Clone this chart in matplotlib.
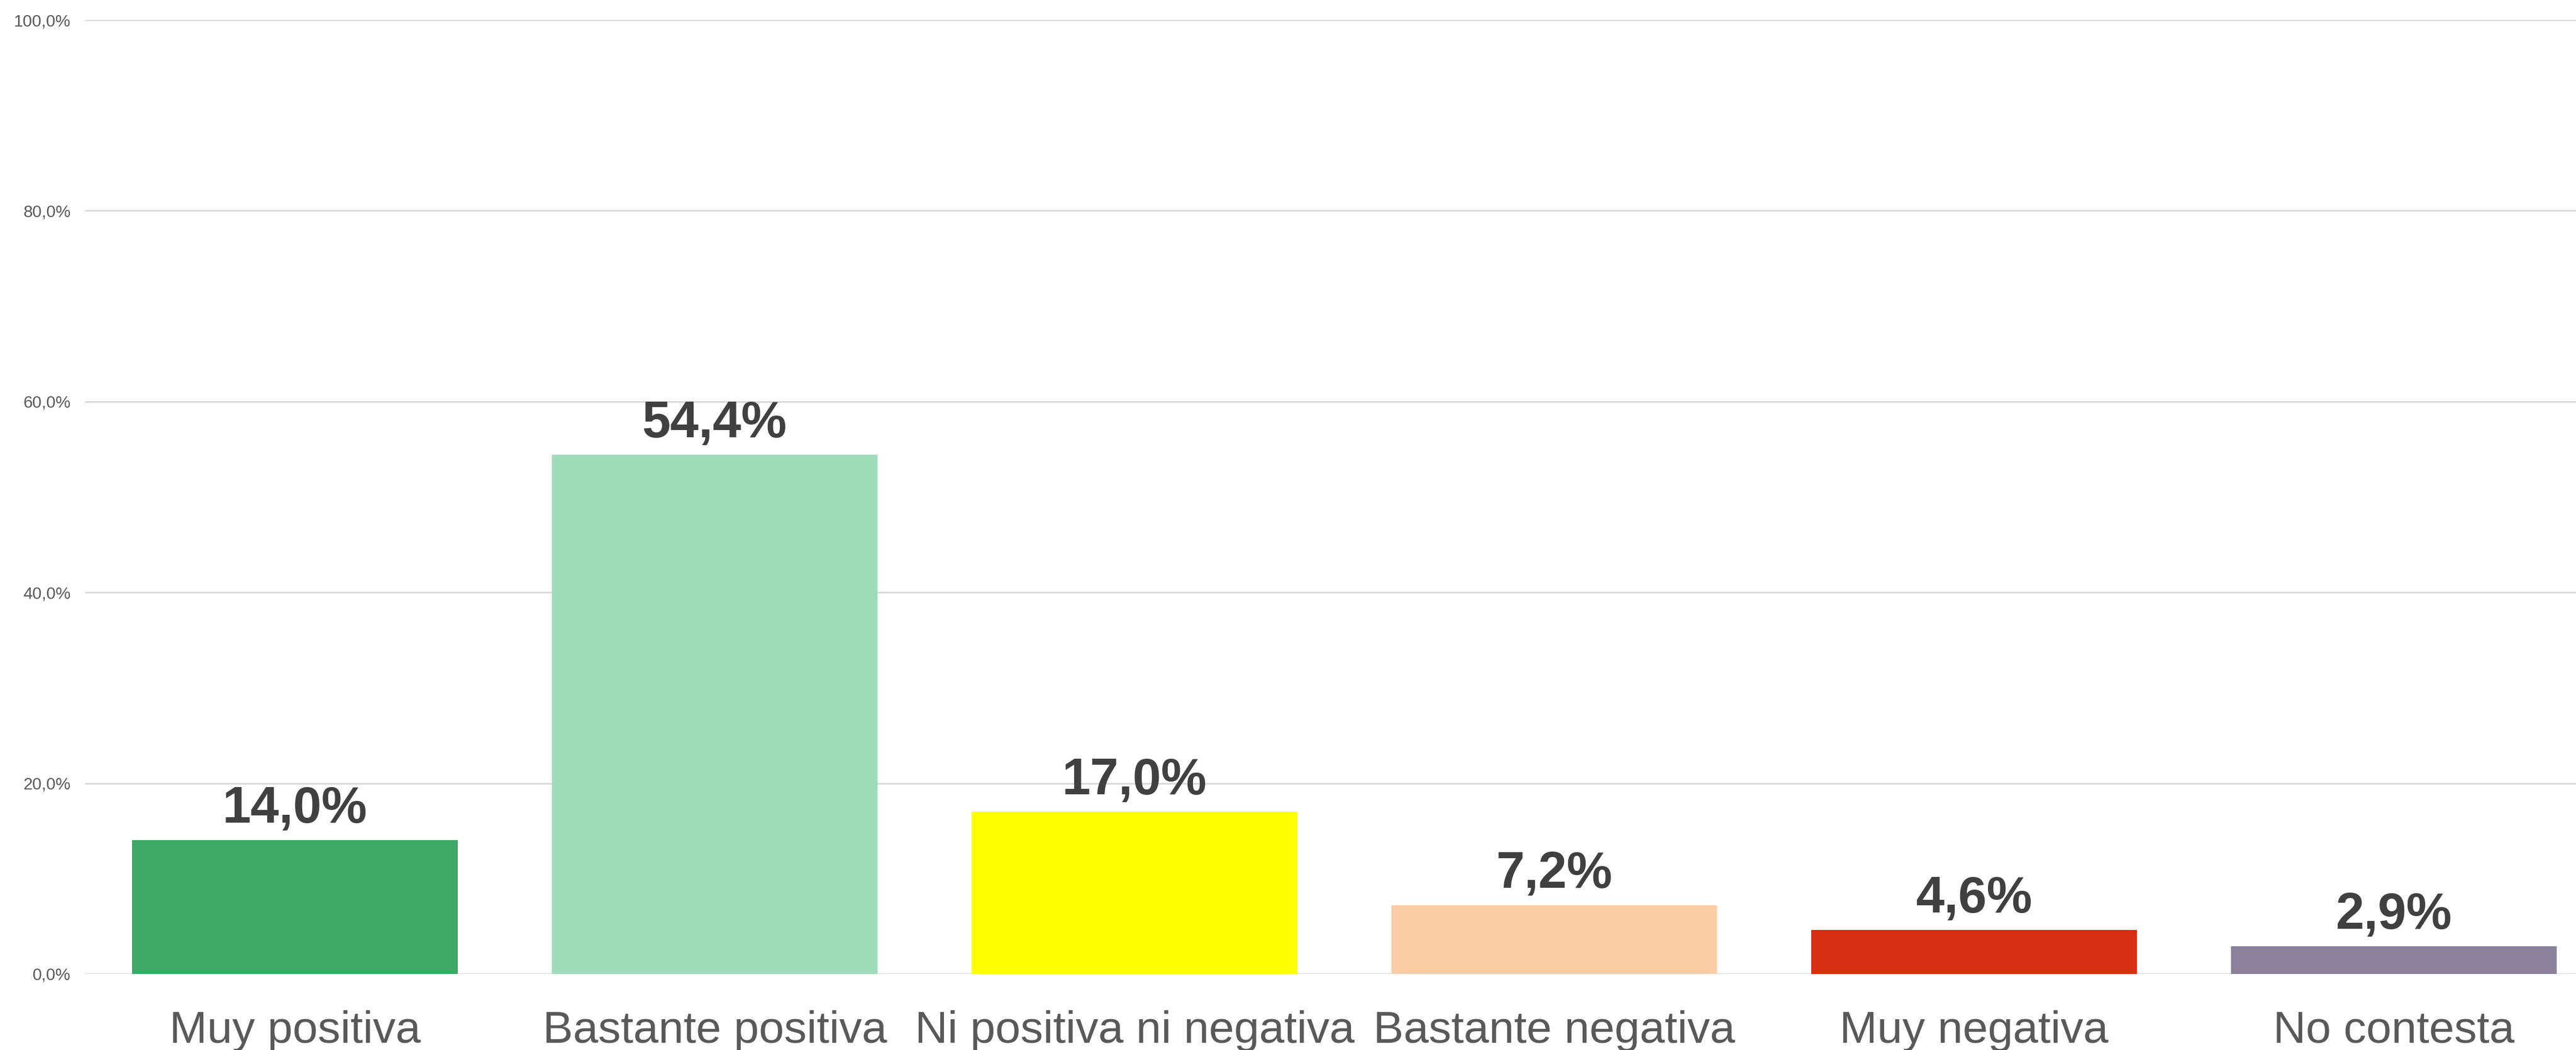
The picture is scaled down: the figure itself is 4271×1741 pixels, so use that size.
import matplotlib
matplotlib.use("Agg")
import matplotlib.pyplot as plt

categories = ["Muy positiva", "Bastante positiva", "Ni positiva ni negativa",
              "Bastante negativa", "Muy negativa", "No contesta"]
values = [14.0, 54.4, 17.0, 7.2, 4.6, 2.9]
colors = ["#3EA967", "#9FDCB9", "#FFFF00", "#FCCEA8", "#D62F14", "#8B819C"]
yticks = [0, 20, 40, 60, 80, 100]

plt.rcParams['font.family'] = ['Liberation Sans', 'DejaVu Sans']

DPI = 100
fig = plt.figure(figsize=(42.71, 17.41), dpi=DPI)
ax = fig.add_axes([0.033, 0.0724, 0.967, 0.9086])

x = list(range(len(categories)))
ax.bar(x, values, width=0.775, color=colors, zorder=3)

ax.set_xlim(-0.5, 5.434)
ax.set_ylim(0, 100)
ax.set_yticks(yticks)
ax.set_yticklabels([f"{v:.1f}".replace(".", ",") + "%" for v in yticks],
                   fontsize=20, color="#595959")
ax.yaxis.grid(True, color="#D9D9D9", linewidth=2, zorder=0)
ax.set_axisbelow(True)
ax.tick_params(axis='y', length=0, pad=17)
ax.set_xticks(x)
ax.set_xticklabels(categories, fontsize=54, color="#595959")
ax.tick_params(axis='x', length=0, pad=43)
for s in ax.spines.values():
    s.set_visible(False)

for xi, v in zip(x, values):
    ax.annotate(f"{v:.1f}".replace(".", ",") + "%", (xi, v),
                xytext=(0, 21), textcoords="offset points",
                ha="center", va="baseline", fontsize=61,
                fontweight="bold", color="#404040", zorder=4)

fig.savefig("out.png", dpi=DPI)
